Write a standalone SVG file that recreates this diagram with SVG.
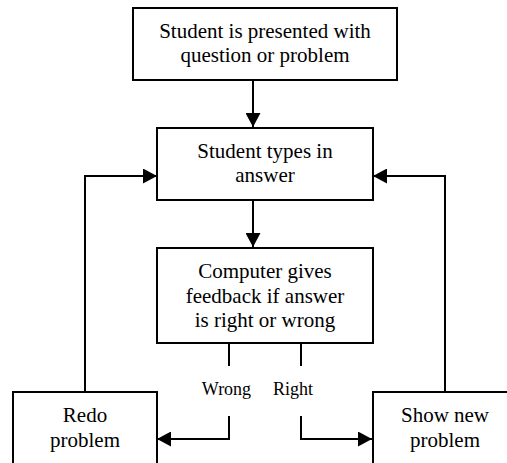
<svg xmlns="http://www.w3.org/2000/svg" width="507" height="463" viewBox="0 0 507 463">
<style>
.box{fill:#fff;stroke:#000;stroke-width:2}
.t{font-family:"Liberation Serif","Times New Roman",serif;font-size:21px;fill:#000;text-anchor:middle}
.lbl{font-family:"Liberation Serif","Times New Roman",serif;font-size:18px;fill:#000;text-anchor:middle}
.c{fill:none;stroke:#000;stroke-width:2}
.a{marker-end:url(#ah)}
</style>
<defs>
<marker id="ah" markerUnits="userSpaceOnUse" markerWidth="15" markerHeight="15" refX="14" refY="7.5" orient="auto">
<path d="M0,0 L14,7.5 L0,15 z" fill="#000"/>
</marker>
</defs>
<rect width="507" height="463" fill="#fff"/>
<g id="connectors">
<path class="c a" d="M253,80 V127"/>
<path class="c a" d="M253,200 V247"/>
<path class="c a" d="M85,392 V176 H157"/>
<path class="c a" d="M445,392 V176 H373"/>
<path class="c" d="M229,343 V366"/>
<path class="c" d="M301,343 V366"/>
<path class="c a" d="M229,416 V439 H157"/>
<path class="c a" d="M301,416 V439 H372"/>
<text class="lbl" x="226.5" y="395">Wrong</text>
<text class="lbl" x="293" y="395">Right</text>
</g>
<g id="n1">
<rect class="box" x="133" y="8" width="264" height="72"/>
<text class="t" x="265" y="38">Student is presented with</text>
<text class="t" x="265" y="62">question or problem</text>
</g>
<g id="n2">
<rect class="box" x="157" y="128" width="216" height="72"/>
<text class="t" x="265" y="158">Student types in</text>
<text class="t" x="265" y="182">answer</text>
</g>
<g id="n3">
<rect class="box" x="157" y="248" width="216" height="95"/>
<text class="t" x="265" y="278">Computer gives</text>
<text class="t" x="265" y="303">feedback if answer</text>
<text class="t" x="265" y="327">is right or wrong</text>
</g>
<g id="n4">
<rect class="box" x="13" y="392" width="144" height="72"/>
<text class="t" x="85" y="422">Redo</text>
<text class="t" x="85" y="447">problem</text>
</g>
<g id="n5">
<rect class="box" x="373" y="392" width="144" height="72"/>
<text class="t" x="445" y="422">Show new</text>
<text class="t" x="445" y="447">problem</text>
</g>
</svg>
